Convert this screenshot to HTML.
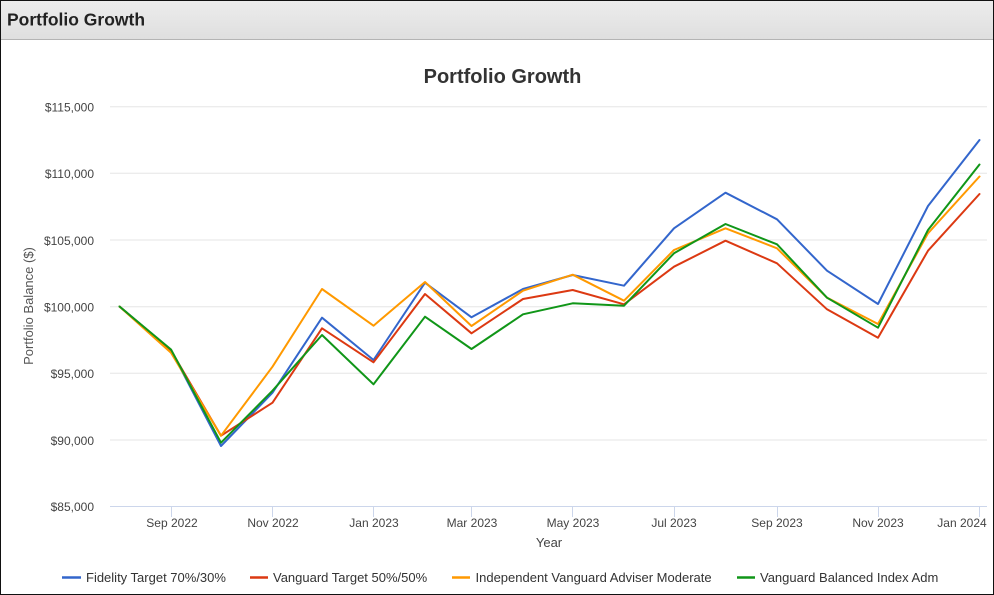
<!DOCTYPE html>
<html>
<head>
<meta charset="utf-8">
<style>
html,body{margin:0;padding:0;background:#fff;}
body{width:994px;height:595px;overflow:hidden;}
svg{display:block;font-family:"Liberation Sans",Arial,sans-serif;}
</style>
</head>
<body>
<svg width="994" height="595" viewBox="0 0 994 595" xmlns="http://www.w3.org/2000/svg">
  <defs>
    <linearGradient id="hdr" x1="0" y1="0" x2="0" y2="1">
      <stop offset="0" stop-color="#ececec"/>
      <stop offset="1" stop-color="#dfdfdf"/>
    </linearGradient>
  </defs>
  <rect x="0" y="0" width="994" height="595" fill="#fff"/>
  <!-- header -->
  <rect x="1" y="1" width="992" height="38" fill="url(#hdr)"/>
  <line x1="1" y1="39.5" x2="993" y2="39.5" stroke="#b4b4b4" stroke-width="1"/>
  <text x="7" y="25.5" font-size="17.5" font-weight="bold" fill="#222">Portfolio Growth</text>

  <!-- chart title -->
  <text x="502.5" y="83" font-size="20" font-weight="bold" fill="#333" text-anchor="middle">Portfolio Growth</text>

  <!-- gridlines -->
  <g stroke="#e6e6e6" stroke-width="1">
    <line x1="110" y1="106.7" x2="987" y2="106.7"/>
    <line x1="110" y1="173.3" x2="987" y2="173.3"/>
    <line x1="110" y1="240" x2="987" y2="240"/>
    <line x1="110" y1="306.7" x2="987" y2="306.7"/>
    <line x1="110" y1="373.3" x2="987" y2="373.3"/>
    <line x1="110" y1="440" x2="987" y2="440"/>
  </g>
  <!-- x axis -->
  <line x1="110" y1="506.5" x2="987" y2="506.5" stroke="#ccd6eb" stroke-width="1"/>
  <g stroke="#ccd6eb" stroke-width="1">
    <line x1="171.5" y1="506" x2="171.5" y2="517"/>
    <line x1="272.5" y1="506" x2="272.5" y2="517"/>
    <line x1="373.5" y1="506" x2="373.5" y2="517"/>
    <line x1="471.5" y1="506" x2="471.5" y2="517"/>
    <line x1="572.5" y1="506" x2="572.5" y2="517"/>
    <line x1="674.5" y1="506" x2="674.5" y2="517"/>
    <line x1="777.5" y1="506" x2="777.5" y2="517"/>
    <line x1="878.5" y1="506" x2="878.5" y2="517"/>
    <line x1="979.5" y1="506" x2="979.5" y2="517"/>
  </g>

  <!-- y labels -->
  <g font-size="12" fill="#444" text-anchor="end">
    <text x="94" y="111.5">$115,000</text>
    <text x="94" y="178">$110,000</text>
    <text x="94" y="244.8">$105,000</text>
    <text x="94" y="311.5">$100,000</text>
    <text x="94" y="378">$95,000</text>
    <text x="94" y="444.8">$90,000</text>
    <text x="94" y="511">$85,000</text>
  </g>
  <!-- x labels -->
  <g font-size="12" fill="#444" text-anchor="middle">
    <text x="172" y="527">Sep 2022</text>
    <text x="273" y="527">Nov 2022</text>
    <text x="374" y="527">Jan 2023</text>
    <text x="472" y="527">Mar 2023</text>
    <text x="573" y="527">May 2023</text>
    <text x="674" y="527">Jul 2023</text>
    <text x="777" y="527">Sep 2023</text>
    <text x="878" y="527">Nov 2023</text>
    <text x="962" y="527">Jan 2024</text>
  </g>
  <text x="549" y="547" font-size="13" fill="#444" text-anchor="middle">Year</text>
  <text transform="translate(33,306) rotate(-90)" font-size="13" fill="#555" text-anchor="middle">Portfolio Balance ($)</text>

  <!-- series -->
  <g fill="none" stroke-width="2" stroke-linejoin="round" stroke-linecap="round">
    <polyline stroke="#3366cc" points="119.5,306.5 171,350 221,446 272.5,392.7 322,317.7 373.5,360 425,282.7 471.5,317.3 523,289 572.7,275 624,285.7 674,228.3 725.5,192.7 777,219.3 827,270.7 878,304 928,206 979.5,140"/>
    <polyline stroke="#dc3912" points="119.5,306.5 171,350.5 221,435.7 272.5,402.7 322,328.3 373.5,362.3 425,294 471.5,333.3 523,299 572.7,290 624,304.3 674,266.7 725.5,240.7 777,263.3 827,309.3 878,337.7 928,250.7 979.5,194"/>
    <polyline stroke="#ff9900" points="119.5,306.5 171,352.7 221,435.7 272.5,366.7 322,289 373.5,325.7 425,282 471.5,326 523,290.7 572.7,274.7 624,300.7 674,250 725.5,228.3 777,248.3 827,297.7 878,324 928,233.3 979.5,176.5"/>
    <polyline stroke="#109618" points="119.5,306.5 171,349.5 221,442.7 272.5,390.7 322,335 373.5,384.3 425,316.7 471.5,349 523,314.3 572.7,303.3 624,305.7 674,253.3 725.5,224 777,244.3 827,297.7 878,327.7 928,230 979.5,164.5"/>
  </g>

  <!-- legend -->
  <g stroke-width="2.5">
    <line x1="62" y1="577.5" x2="81" y2="577.5" stroke="#3366cc"/>
    <line x1="250" y1="577.5" x2="268" y2="577.5" stroke="#dc3912"/>
    <line x1="452" y1="577.5" x2="470" y2="577.5" stroke="#ff9900"/>
    <line x1="737" y1="577.5" x2="755" y2="577.5" stroke="#109618"/>
  </g>
  <g font-size="13" fill="#333">
    <text x="86" y="582">Fidelity Target 70%/30%</text>
    <text x="273" y="582">Vanguard Target 50%/50%</text>
    <text x="475.5" y="582">Independent Vanguard Adviser Moderate</text>
    <text x="760" y="582">Vanguard Balanced Index Adm</text>
  </g>

  <!-- outer border -->
  <rect x="0.5" y="0.5" width="993" height="594" fill="none" stroke="#111" stroke-width="1"/>
</svg>
</body>
</html>
